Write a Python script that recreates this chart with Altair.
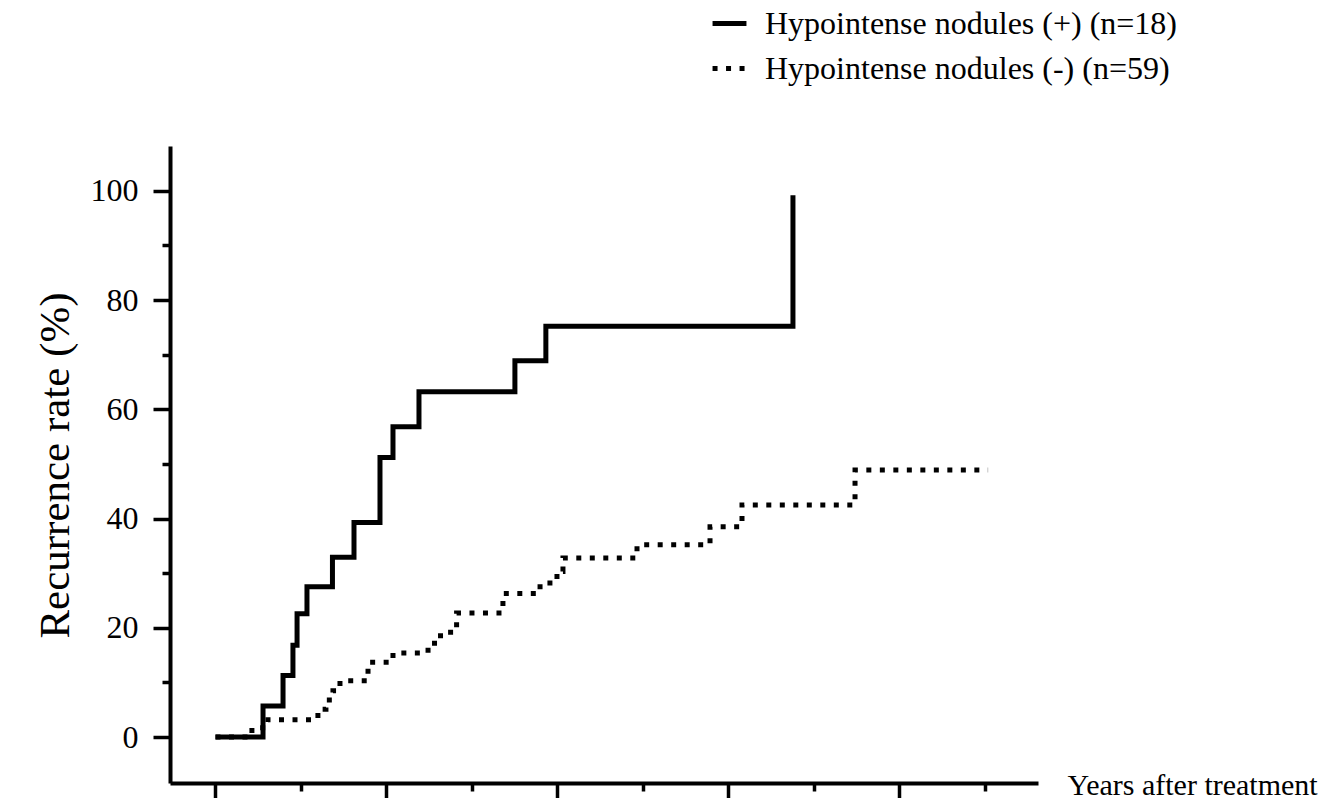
import altair as alt
import pandas as pd

# Step curves (years after treatment, recurrence %)
series_names = ["Hypointense nodules (+) (n=18)", "Hypointense nodules (-) (n=59)"]

pos_years = [0.0, 0.278, 0.395, 0.453, 0.477, 0.535, 0.684, 0.81, 0.962, 1.038, 1.19, 1.751, 1.932, 3.377]
pos_rate = [0, 5.7, 11.3, 16.8, 22.6, 27.5, 32.9, 39.3, 51.2, 56.8, 63.2, 68.9, 75.2, 99.2]

neg_years = [0.0, 0.213, 0.307, 0.599, 0.646, 0.687, 0.728, 0.892, 1.038, 1.243, 1.316, 1.41,
             1.681, 1.898, 1.997, 2.032, 2.465, 2.892, 3.079, 3.74, 4.518]
neg_rate = [0, 1.7, 3.2, 5.1, 6.8, 8.5, 10.3, 13.7, 15.4, 17.2, 19.2, 22.7,
            26.3, 28.2, 30.3, 32.8, 35.2, 38.5, 42.5, 48.9, 48.9]

y_tick_values = [0, 10, 20, 30, 40, 50, 60, 70, 80, 90, 100]
x_tick_values = [0, 0.5, 1, 1.5, 2, 2.5, 3, 3.5, 4, 4.5]

rows = []
for i, (x, y) in enumerate(zip(pos_years, pos_rate)):
    rows.append({"series": series_names[0], "years": x, "rate": y, "order": i})
for i, (x, y) in enumerate(zip(neg_years, neg_rate)):
    rows.append({"series": series_names[1], "years": x, "rate": y, "order": i})
df = pd.DataFrame(rows)

FONT = "Liberation Serif"

chart = alt.Chart(df).mark_line(
    interpolate="step-after", color="black", strokeWidth=5, strokeCap="butt"
).encode(
    x=alt.X(
        "years:Q",
        scale=alt.Scale(domain=[-0.266, 4.81], nice=False, zero=False),
        axis=alt.Axis(
            values=x_tick_values,
            labels=False,
            grid=False,
            domainColor="black",
            domainWidth=4,
            tickColor="black",
            tickWidth=3.5,
            tickSize={"condition": {"test": "datum.value % 1 == 0", "value": 16}, "value": 8},
            title="Years after treatment",
            titleFont=FONT,
            titleFontSize=30,
            titleFontWeight="normal",
            titleColor="black",
            titleAlign="left",
            titleBaseline="alphabetic",
            titleX=897,
            titleY=11,
        ),
    ),
    y=alt.Y(
        "rate:Q",
        scale=alt.Scale(domain=[-8.4, 108.2], nice=False, zero=False),
        axis=alt.Axis(
            values=y_tick_values,
            labelExpr="datum.value % 20 == 0 ? datum.label : ''",
            grid=False,
            domainColor="black",
            domainWidth=4,
            tickColor="black",
            tickWidth=3.5,
            tickSize={"condition": {"test": "datum.value % 20 == 0", "value": 17}, "value": 8},
            labelFont=FONT,
            labelFontSize=32,
            labelColor="black",
            labelPadding=15,
            title="Recurrence rate (%)",
            titleFont=FONT,
            titleFontSize=43,
            titleFontWeight="normal",
            titleColor="black",
            titleAngle=270,
            titleAlign="center",
            titleBaseline="middle",
            titleX=-115,
            titleY=319,
        ),
    ),
    strokeDash=alt.StrokeDash(
        "series:N",
        scale=alt.Scale(domain=series_names, range=[[1, 0], [5, 8.5]]),
        legend=alt.Legend(
            title=None,
            orient="none",
            legendX=540,
            legendY=-142,
            symbolType="stroke",
            symbolSize=1150,
            symbolStrokeWidth=5,
            symbolStrokeColor="black",
            labelFont=FONT,
            labelFontSize=32,
            labelColor="black",
            labelOffset=16,
            rowPadding=9,
            padding=0,
            labelLimit=600,
        ),
    ),
    order="order:Q",
).properties(
    width=868,
    height=637,
    autosize=alt.AutoSizeParams(type="none"),
    padding={"left": 162, "top": 138, "right": 293, "bottom": 15},
    background="white",
).configure_view(stroke=None)

chart.save("out.html", embed_options={"renderer": "svg", "actions": False})
